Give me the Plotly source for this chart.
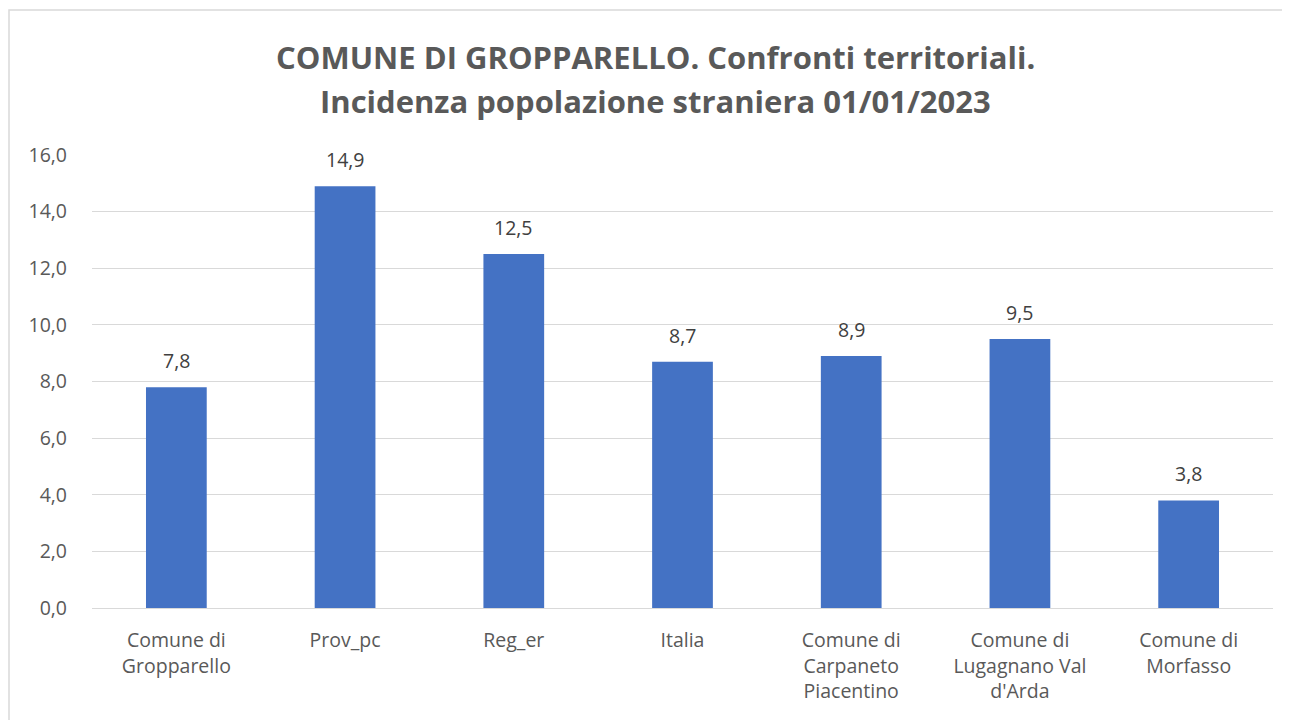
import plotly.graph_objects as go

categories = ["Comune di<br>Gropparello", "Prov_pc", "Reg_er", "Italia",
              "Comune di<br>Carpaneto<br>Piacentino", "Comune di<br>Lugagnano Val<br>d'Arda",
              "Comune di<br>Morfasso"]
values = [7.8, 14.9, 12.5, 8.7, 8.9, 9.5, 3.8]
labels = ["7,8", "14,9", "12,5", "8,7", "8,9", "9,5", "3,8"]
title_lines = ["<b>COMUNE DI GROPPARELLO. Confronti territoriali.</b>",
               "<b>Incidenza popolazione straniera 01/01/2023</b>"]

# page has an 8px body margin
W, H = 1282, 712
ml, mr, mt, mb = 84, 17, 147, 112
pw, ph = W - ml - mr, H - mt - mb

font_family = "Open Sans, Noto Sans, sans-serif"
grey = "#595959"

def py(fy):
    return (H - mb - fy) / ph

def px(fx):
    return (fx - ml) / pw

fig = go.Figure(go.Bar(
    x=categories, y=values,
    marker=dict(color="#4472C4", line=dict(width=0)),
    hoverinfo="x+y",
))

annotations = []
for c, v, t in zip(categories, values, labels):
    annotations.append(dict(x=c, y=v, xref="x", yref="y", text=t, showarrow=False,
                            yanchor="bottom", yshift=11,
                            font=dict(size=19.5, color="#404040", family=font_family)))
for i, (line, fy) in enumerate(zip(title_lines, [49, 93])):
    annotations.append(dict(x=px(647), y=py(fy), xref="paper", yref="paper", text=line,
                            showarrow=False, xanchor="center", yanchor="middle",
                            font=dict(size=31, color=grey, family=font_family)))

fig.update_layout(
    width=W, height=H,
    margin=dict(l=ml, r=mr, t=mt, b=mb),
    paper_bgcolor="white", plot_bgcolor="white",
    separators=",.",
    bargap=0.64,
    showlegend=False,
    font=dict(family=font_family, color=grey, size=19.5),
    xaxis=dict(showgrid=False, showline=True, linecolor="#D9D9D9", linewidth=1,
               ticks="", tickfont=dict(size=19.5, color=grey), ticklabelstandoff=15),
    yaxis=dict(range=[0, 16], dtick=2, tickformat=".1f", showgrid=True,
               gridcolor="#D9D9D9", gridwidth=1, zeroline=False, showline=False,
               ticks="", tickfont=dict(size=19.5, color=grey), ticklabelstandoff=24),
    annotations=annotations,
    shapes=[dict(type="rect", xref="paper", yref="paper",
                 x0=px(1), x1=px(1277), y0=py(730), y1=py(2),
                 line=dict(color="#D9D9D9", width=1.5), fillcolor="rgba(0,0,0,0)", layer="below")],
)

fig.write_html("out.html")
